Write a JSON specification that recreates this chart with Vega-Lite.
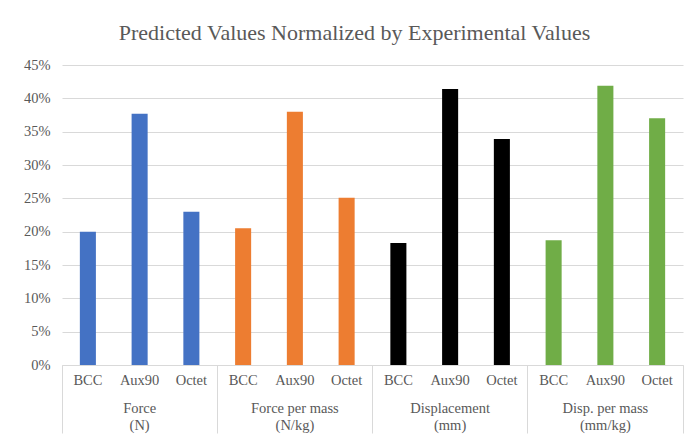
{
  "$schema": "https://vega.github.io/schema/vega-lite/v6.json",
  "width": 621,
  "height": 300,
  "autosize": {"type": "none"},
  "padding": {"left": 62, "top": 65, "right": 7, "bottom": 74},
  "background": "white",
  "title": {
    "text": "Predicted Values Normalized by Experimental Values",
    "font": "'Liberation Serif', 'Times New Roman', serif",
    "fontSize": 22,
    "fontWeight": "normal",
    "color": "#595959",
    "anchor": "middle",
    "frame": "group",
    "baseline": "alphabetic",
    "offset": -5,
    "dx": -18
  },
  "data": {
    "values": [
      {"measure": "Force", "unit": "(N)", "lattice": "BCC", "value": 0.200},
      {"measure": "Force", "unit": "(N)", "lattice": "Aux90", "value": 0.377},
      {"measure": "Force", "unit": "(N)", "lattice": "Octet", "value": 0.230},
      {"measure": "Force per mass", "unit": "(N/kg)", "lattice": "BCC", "value": 0.205},
      {"measure": "Force per mass", "unit": "(N/kg)", "lattice": "Aux90", "value": 0.380},
      {"measure": "Force per mass", "unit": "(N/kg)", "lattice": "Octet", "value": 0.251},
      {"measure": "Displacement", "unit": "(mm)", "lattice": "BCC", "value": 0.183},
      {"measure": "Displacement", "unit": "(mm)", "lattice": "Aux90", "value": 0.414},
      {"measure": "Displacement", "unit": "(mm)", "lattice": "Octet", "value": 0.339},
      {"measure": "Disp. per mass", "unit": "(mm/kg)", "lattice": "BCC", "value": 0.187},
      {"measure": "Disp. per mass", "unit": "(mm/kg)", "lattice": "Aux90", "value": 0.419},
      {"measure": "Disp. per mass", "unit": "(mm/kg)", "lattice": "Octet", "value": 0.370}
    ]
  },
  "transform": [
    {"calculate": "datum.measure + '~' + datum.unit + '~' + datum.lattice", "as": "key"}
  ],
  "layer": [
    {
      "mark": {"type": "bar", "width": {"band": 0.31}},
      "encoding": {
        "x": {
          "field": "key", "type": "nominal", "sort": null,
          "scale": {"paddingInner": 0, "paddingOuter": 0},
          "axis": {
            "orient": "bottom", "title": null, "labelAngle": 0,
            "labelExpr": "split(datum.value, '~')[2]",
            "ticks": false, "domain": true, "domainColor": "#d9d9d9", "domainWidth": 1,
            "labelPadding": 8, "labelFont": "'Liberation Serif', 'Times New Roman', serif", "labelFontSize": 14.5,
            "labelColor": "#595959", "grid": false
          }
        },
        "y": {
          "field": "value", "type": "quantitative",
          "scale": {"domain": [0, 0.45]},
          "axis": {
            "title": null, "format": ".0%",
            "values": [0, 0.05, 0.1, 0.15, 0.2, 0.25, 0.3, 0.35, 0.4, 0.45],
            "domain": false, "ticks": false, "labelPadding": 12,
            "labelFont": "'Liberation Serif', 'Times New Roman', serif", "labelFontSize": 14.5, "labelColor": "#595959",
            "grid": true, "gridColor": "#d9d9d9", "gridWidth": 1
          }
        },
        "color": {
          "field": "measure", "type": "nominal", "legend": null,
          "scale": {
            "domain": ["Force", "Force per mass", "Displacement", "Disp. per mass"],
            "range": ["#4472c4", "#ed7d31", "#000000", "#70ad47"]
          }
        }
      }
    },
    {
      "mark": {"type": "bar", "opacity": 0},
      "encoding": {
        "x": {
          "field": "key", "type": "nominal", "sort": null,
          "axis": {
            "orient": "bottom", "title": null, "labelAngle": 0,
            "values": ["Force~(N)~Aux90", "Force per mass~(N/kg)~Aux90", "Displacement~(mm)~Aux90", "Disp. per mass~(mm/kg)~Aux90"],
            "labelExpr": "[split(datum.value, '~')[0], split(datum.value, '~')[1]]",
            "ticks": false, "domain": false, "grid": false,
            "labelPadding": 36, "labelLineHeight": 17,
            "labelFont": "'Liberation Serif', 'Times New Roman', serif", "labelFontSize": 14.5, "labelColor": "#595959"
          }
        }
      }
    },
    {
      "mark": {"type": "bar", "opacity": 0},
      "encoding": {
        "x": {
          "field": "key", "type": "nominal", "sort": null,
          "axis": {
            "orient": "bottom", "title": null,
            "values": ["Force~(N)~BCC", "Force per mass~(N/kg)~BCC", "Displacement~(mm)~BCC", "Disp. per mass~(mm/kg)~BCC"],
            "bandPosition": 0, "labels": false, "domain": false, "grid": false,
            "ticks": true, "tickSize": 68, "tickColor": "#d9d9d9", "tickWidth": 1
          }
        }
      }
    },
    {
      "mark": {"type": "bar", "opacity": 0},
      "encoding": {
        "x": {
          "field": "key", "type": "nominal", "sort": null,
          "axis": {
            "orient": "bottom", "title": null,
            "values": ["Disp. per mass~(mm/kg)~Octet"],
            "bandPosition": 1, "labels": false, "domain": false, "grid": false,
            "ticks": true, "tickSize": 68, "tickColor": "#d9d9d9", "tickWidth": 1
          }
        }
      }
    }
  ],
  "resolve": {"axis": {"x": "independent"}},
  "config": {"view": {"stroke": null}}
}
